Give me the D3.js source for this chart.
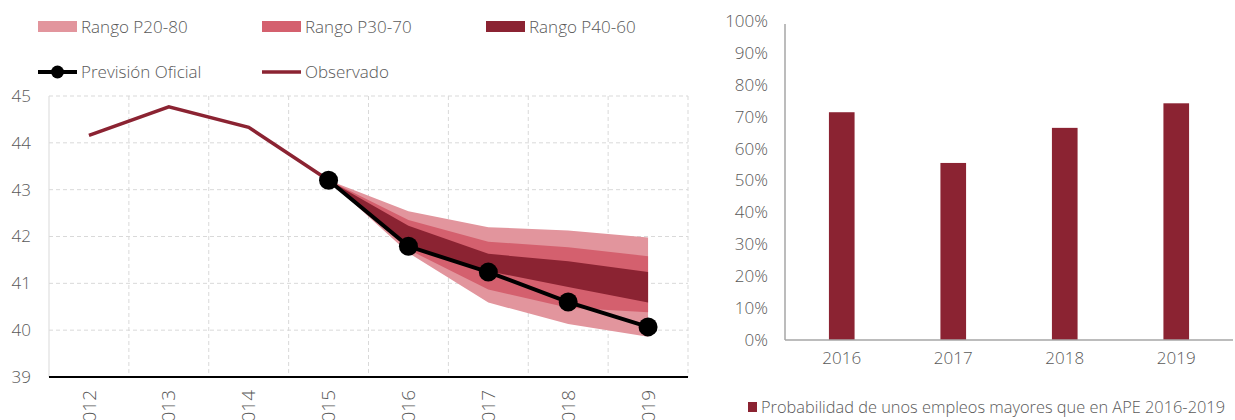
<!DOCTYPE html>
<html><head><meta charset="utf-8">
<script src="https://cdn.jsdelivr.net/npm/d3@7"></script>
<style>
body{margin:0;background:#fff;}
svg text{font-family:"Open Sans", Lato, sans-serif;font-weight:300;fill:#595959;}
</style></head>
<body><svg id="c" width="1235" height="420"></svg>
<script>
const years = ["2012","2013","2014","2015","2016","2017","2018","2019"];
const observado = [44.16, 44.77, 44.33, 43.2];
const fcYears = ["2015","2016","2017","2018","2019"];
const prevision = [43.2, 41.79, 41.24, 40.6, 40.07];
const p20 = [43.2, 41.65, 40.59, 40.13, 39.86];
const p80 = [43.2, 42.54, 42.2, 42.13, 41.98];
const p30 = [43.2, 41.72, 40.87, 40.48, 40.38];
const p70 = [43.2, 42.35, 41.89, 41.77, 41.58];
const p40 = [43.2, 41.79, 41.26, 40.92, 40.59];
const p60 = [43.2, 42.23, 41.63, 41.47, 41.24];
const yTicks = [39, 40, 41, 42, 43, 44, 45];

const barYears = ["2016","2017","2018","2019"];
const barValues = [0.714, 0.555, 0.665, 0.742];
const pctTicks = [0,0.1,0.2,0.3,0.4,0.5,0.6,0.7,0.8,0.9,1.0];

const cLight="#E2959D", cMid="#D4606E", cDark="#8B2332";
const FS = 17;
const svg = d3.select("#c");

// ---------- Left chart ----------
const x = d3.scaleBand().domain(years).range([49, 688]);
const y = d3.scaleLinear().domain([39, 45]).range([377, 96]);
const cx = d => x(d) + x.bandwidth()/2;
const L = svg.append("g");

// grid
L.selectAll(".hg").data(yTicks.filter(t=>t>39)).join("line")
  .attr("x1",49).attr("x2",688).attr("y1",d=>y(d)).attr("y2",d=>y(d))
  .attr("stroke","#d9d9d9").attr("stroke-dasharray","4,3").attr("stroke-width",1);
L.selectAll(".vg").data(years).join("line")
  .attr("x1",d=>x(d)+x.bandwidth()).attr("x2",d=>x(d)+x.bandwidth())
  .attr("y1",96).attr("y2",377)
  .attr("stroke","#d9d9d9").attr("stroke-dasharray","4,3").attr("stroke-width",1);
L.append("line").attr("x1",49).attr("x2",49).attr("y1",96).attr("y2",377)
  .attr("stroke","#d9d9d9").attr("stroke-width",1);

// bands
function band(lo, hi, col){
  const a = d3.area().x((d,i)=>cx(fcYears[i])).y0((d,i)=>y(lo[i])).y1((d,i)=>y(hi[i]));
  L.append("path").attr("d", a(fcYears)).attr("fill", col);
}
band(p20, p80, cLight);
band(p30, p70, cMid);
band(p40, p60, cDark);

// observed
L.append("path").attr("d", d3.line().x((d,i)=>cx(years[i])).y(d=>y(d))(observado))
  .attr("fill","none").attr("stroke",cDark).attr("stroke-width",3.5);
// forecast
L.append("path").attr("d", d3.line().x((d,i)=>cx(fcYears[i])).y(d=>y(d))(prevision))
  .attr("fill","none").attr("stroke","#000").attr("stroke-width",4);
L.selectAll(".pt").data(prevision).join("circle")
  .attr("cx",(d,i)=>cx(fcYears[i])).attr("cy",d=>y(d)).attr("r",9.5).attr("fill","#000");

// y axis labels
const yAx = L.append("g").attr("transform","translate(31,0)")
  .call(d3.axisLeft(y).tickValues(yTicks).tickFormat(d3.format("d")).tickSize(0).tickPadding(0));
yAx.select(".domain").remove();
yAx.selectAll("text").attr("font-size",FS).attr("fill","#595959").style("font-family",null);

// x axis baseline
L.append("line").attr("x1",49).attr("x2",688).attr("y1",377).attr("y2",377)
  .attr("stroke","#000").attr("stroke-width",2);
const xAx = L.append("g").attr("transform","translate(0,377)")
  .call(d3.axisBottom(x).tickSize(0).tickPadding(0));
xAx.select(".domain").remove();
xAx.selectAll("text").attr("font-size",19).attr("fill","#595959")
  .attr("transform","rotate(-90)").attr("text-anchor","end")
  .attr("x",-13).attr("y",0).attr("dy","0.35em").style("font-family",null);

// legend
const leg = [
  {t:"Rango P20-80", c:cLight, x:38, y:27, type:"rect"},
  {t:"Rango P30-70", c:cMid, x:262, y:27, type:"rect"},
  {t:"Rango P40-60", c:cDark, x:486, y:27, type:"rect"},
  {t:"Previsión Oficial", c:"#000", x:38, y:72, type:"marker"},
  {t:"Observado", c:cDark, x:262, y:72, type:"line"}
];
leg.forEach(l=>{
  const g = svg.append("g");
  if(l.type==="rect") g.append("rect").attr("x",l.x).attr("y",l.y-6).attr("width",39).attr("height",11).attr("fill",l.c);
  else {
    g.append("line").attr("x1",l.x).attr("x2",l.x+39).attr("y1",l.y).attr("y2",l.y).attr("stroke",l.c).attr("stroke-width",l.type==="marker"?4:3.5);
    if(l.type==="marker") g.append("circle").attr("cx",l.x+19.5).attr("cy",l.y).attr("r",6.5).attr("fill","#000");
  }
  g.append("text").attr("x",l.x+43).attr("y",l.y).attr("dy","0.35em").attr("font-size",FS).text(l.t);
});

// ---------- Right chart ----------
const xb = d3.scaleBand().domain(barYears).range([786, 1232]).paddingInner(0.77).paddingOuter(0.385);
const yb = d3.scaleLinear().domain([0,1]).range([340, 21]);
const R = svg.append("g");
R.selectAll("rect").data(barValues).join("rect")
  .attr("x",(d,i)=>xb(barYears[i])).attr("width",xb.bandwidth())
  .attr("y",d=>yb(d)).attr("height",d=>340-yb(d)).attr("fill",cDark);
R.append("line").attr("x1",785).attr("x2",785).attr("y1",24).attr("y2",340).attr("stroke","#a6a6a6").attr("stroke-width",1.5);
R.append("line").attr("x1",785).attr("x2",1233).attr("y1",340).attr("y2",340).attr("stroke","#a6a6a6").attr("stroke-width",1.5);
const ybAx = R.append("g").attr("transform","translate(768,0)")
  .call(d3.axisLeft(yb).tickValues(pctTicks).tickFormat(d3.format(".0%")).tickSize(0).tickPadding(0));
ybAx.select(".domain").remove();
ybAx.selectAll("text").attr("font-size",FS).attr("fill","#595959").style("font-family",null);
const xbAx = R.append("g").attr("transform","translate(0,340)")
  .call(d3.axisBottom(xb).tickSize(0).tickPadding(0));
xbAx.select(".domain").remove();
xbAx.selectAll("text").attr("font-size",FS).attr("fill","#595959").attr("y",18).attr("dy","0.35em").style("font-family",null);

// bottom legend
R.append("rect").attr("x",748).attr("y",402).attr("width",9).attr("height",10).attr("fill",cDark);
R.append("text").attr("x",761).attr("y",408).attr("dy","0.35em").attr("font-size",15.5)
  .attr("textLength",464).attr("lengthAdjust","spacingAndGlyphs")
  .text("Probabilidad de unos empleos mayores que en APE 2016-2019");
</script></body></html>
